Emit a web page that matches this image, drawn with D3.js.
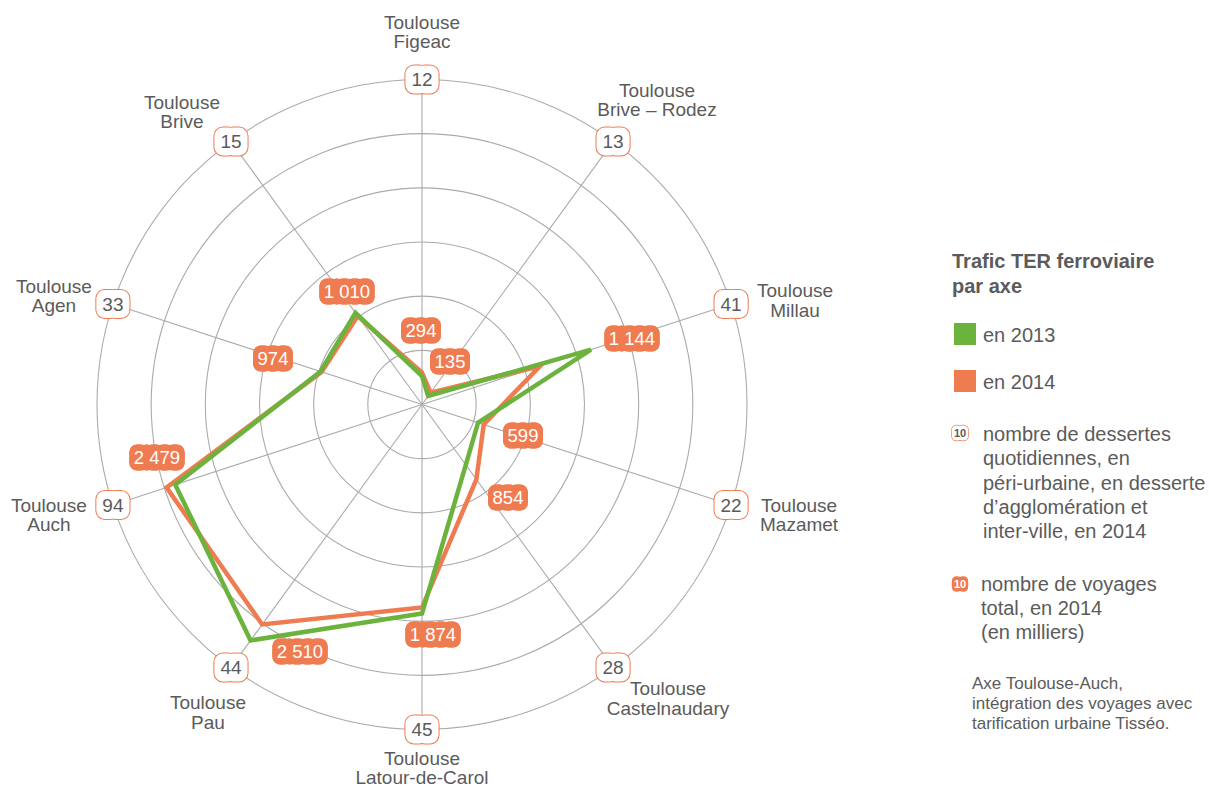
<!DOCTYPE html>
<html lang="fr">
<head>
<meta charset="utf-8">
<script src="https://cdn.jsdelivr.net/npm/d3@7"></script>
<style>
  html, body { margin: 0; padding: 0; background: #fff; }
  svg { display: block; font-family: "Liberation Sans", Arial, sans-serif; }
</style>
</head>
<body>
<svg id="chart" width="1209" height="789"></svg>
<script>
// Axes (Toulouse – destination), clockwise from the top
const axes = ["Figeac", "Brive – Rodez", "Millau", "Mazamet", "Castelnaudary",
              "Latour-de-Carol", "Pau", "Auch", "Agen", "Brive"];
// Total journeys, in thousands
const voyages2014 = [294, 135, 1144, 599, 854, 1874, 2510, 2479, 974, 1010];
const voyages2013 = [262, 97, 1640, 544, 688, 1930, 2692, 2395, 985, 1045];
// Daily services per axis, 2014
const dessertes = [12, 13, 41, 22, 28, 45, 44, 94, 33, 15];
// Radial grid values
const ringTicks = [500, 1000, 1500, 2000, 2500, 3000];

// Layout
const cx = 422, cy = 404.5, R = 325;
const GREEN = "#6cb33e", ORANGE = "#ef7b50", TEXT = "#5b5b5b", GRID = "#ababab";
// where each value label sits, relative to the centre
const valueLabelPos = [[-1, -74], [28, -43], [210, -66], [101, 31], [86, 93],
                       [11, 230], [-122, 247], [-265, 53], [-149, -46], [-75, -113]];
// centre of each two-line city name, relative to its axis end
const cityOffset = [[0, -48], [44, -42], [64, -4], [68, 10], [55, 31],
                    [0, 38], [-23, 45], [-64, 10], [-59, -8.5], [-49, -30]];

const svg = d3.select("#chart");
const r = d3.scaleLinear().domain([0, 3000]).range([0, R]);
const angle = d3.scalePoint().domain(axes).range([0, 2 * Math.PI * (axes.length - 1) / axes.length]);
const px = (a, v) => cx + r(v) * Math.sin(angle(a));
const py = (a, v) => cy - r(v) * Math.cos(angle(a));

// grid rings
svg.append("g").selectAll("circle").data(ringTicks).join("circle")
  .attr("cx", cx).attr("cy", cy).attr("r", d => r(d))
  .attr("fill", "none").attr("stroke", GRID).attr("stroke-width", 1.1);

// spokes
svg.append("g").selectAll("line").data(axes).join("line")
  .attr("x1", cx).attr("y1", cy)
  .attr("x2", d => px(d, 3000)).attr("y2", d => py(d, 3000))
  .attr("stroke", GRID).attr("stroke-width", 1.1);

// series polygons
const radar = d3.lineRadial().curve(d3.curveLinearClosed)
  .angle((d, i) => angle(axes[i])).radius(d => r(d));
const polys = svg.append("g").attr("transform", `translate(${cx},${cy})`);
polys.append("path").attr("d", radar(voyages2014))
  .attr("fill", "none").attr("stroke", ORANGE).attr("stroke-width", 4.5).attr("stroke-linejoin", "miter");
polys.append("path").attr("d", radar(voyages2013))
  .attr("fill", "none").attr("stroke", GREEN).attr("stroke-width", 4.5).attr("stroke-linejoin", "miter");

// Scalloped label: one rounded box per glyph, merged
function badge(g, x, y, text, opts) {
  const {size, h, filled, pad, bold} = opts;
  const grp = g.append("g").attr("transform", `translate(${x},${y})`);
  const strokeLayer = grp.append("g");
  const fillLayer = grp.append("g");
  const t = grp.append("text").attr("text-anchor", "middle").attr("dy", "0.36em")
    .attr("font-size", size).attr("font-weight", bold ? "bold" : null)
    .attr("fill", filled ? "#fff" : TEXT).text(text);
  const boxes = [];
  for (let i = 0; i < text.length; i++) {
    const e = t.node().getExtentOfChar(i);
    boxes.push({x: e.x - pad, w: e.width + 2 * pad});
  }
  const draw = (layer, isStroke) => layer.selectAll("rect").data(boxes).join("rect")
    .attr("x", d => d.x).attr("y", -h / 2).attr("width", d => d.w).attr("height", h)
    .attr("rx", h * 0.3).attr("ry", h * 0.3)
    .attr("fill", filled ? ORANGE : "#fff")
    .attr("stroke", isStroke && !filled ? ORANGE : "none")
    .attr("stroke-width", isStroke && !filled ? opts.sw || 2 : 0);
  draw(strokeLayer, true);
  draw(fillLayer, false);
  return grp;
}

// dessertes badges at the axis ends
const outer = svg.append("g");
axes.forEach((a, i) => badge(outer, px(a, 3000), py(a, 3000), String(dessertes[i]),
  {size: 19, h: 28, filled: false, pad: 6}));

// city names
const names = svg.append("g").attr("font-size", 19).attr("fill", TEXT).attr("text-anchor", "middle");
axes.forEach((a, i) => {
  const x = px(a, 3000) + cityOffset[i][0], y = py(a, 3000) + cityOffset[i][1];
  const t = names.append("text");
  t.append("tspan").attr("x", x).attr("y", y - 3).text("Toulouse");
  t.append("tspan").attr("x", x).attr("y", y + 16.5).text(a);
});

// 2014 value badges
const fmt = v => d3.format(",")(v).replace(",", " ");
const vals = svg.append("g");
voyages2014.forEach((v, i) => badge(vals, cx + valueLabelPos[i][0], cy + valueLabelPos[i][1], fmt(v),
  {size: 18.5, h: 26, filled: true, pad: 4.5}));

// legend
const lg = svg.append("g").attr("fill", TEXT);
lg.append("text").attr("x", 952).attr("y", 268).attr("font-size", 20).attr("font-weight", "bold").text("Trafic TER ferroviaire");
lg.append("text").attr("x", 952).attr("y", 293).attr("font-size", 20).attr("font-weight", "bold").text("par axe");
const series = [{label: "en 2013", color: GREEN, y: 334}, {label: "en 2014", color: ORANGE, y: 381}];
series.forEach(s => {
  lg.append("rect").attr("x", 954).attr("y", s.y - 11).attr("width", 22).attr("height", 22).attr("fill", s.color);
  lg.append("text").attr("x", 983).attr("y", s.y + 8).attr("font-size", 20).text(s.label);
});
badge(lg, 960, 433, "10", {size: 11, h: 15, filled: false, pad: 2, bold: true, sw: 1.3});
["nombre de dessertes", "quotidiennes, en", "péri-urbaine, en desserte", "d’agglomération et", "inter-ville, en 2014"]
  .forEach((l, i) => lg.append("text").attr("x", 983).attr("y", 441 + i * 24.25).attr("font-size", 20).text(l));
badge(lg, 960, 584, "10", {size: 11, h: 15, filled: true, pad: 2, bold: true});
["nombre de voyages", "total, en 2014", "(en milliers)"]
  .forEach((l, i) => lg.append("text").attr("x", 981).attr("y", 591 + i * 24.2).attr("font-size", 20).text(l));
["Axe Toulouse-Auch,", "intégration des voyages avec", "tarification urbaine Tisséo."]
  .forEach((l, i) => lg.append("text").attr("x", 972).attr("y", 689 + i * 20).attr("font-size", 17).text(l));
</script>
</body>
</html>
